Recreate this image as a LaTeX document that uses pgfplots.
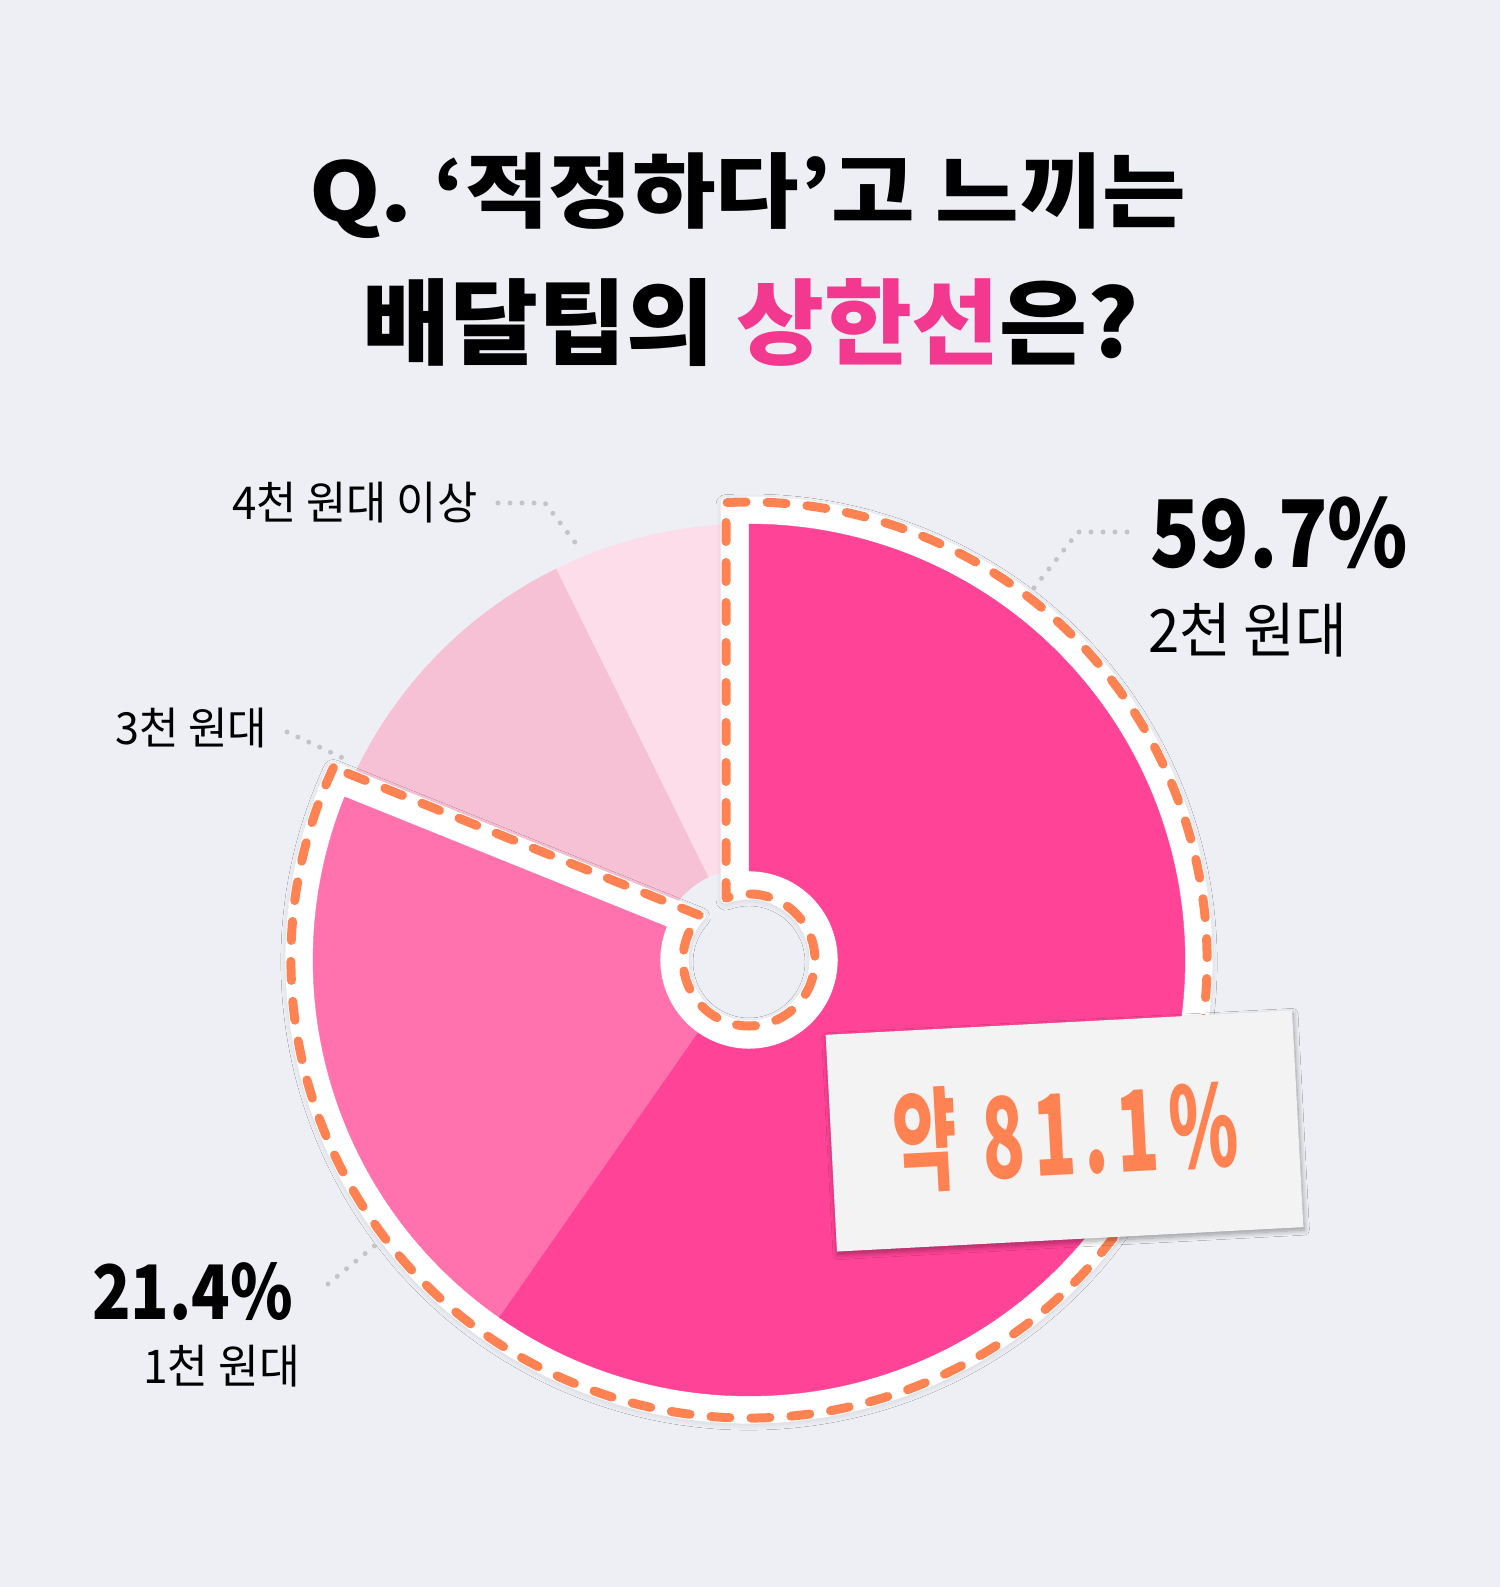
\documentclass[border=0pt]{standalone}
\usepackage{fontspec}
\setmainfont{Noto Sans CJK KR}
\usepackage{graphicx}
\usepackage{pgfplots}
\pgfplotsset{compat=1.18}
\usepackage{pgfplotstable}
\usetikzlibrary{shadows.blur}

\definecolor{bg}{HTML}{EEEFF4}
\definecolor{cA}{HTML}{FF4396}
\definecolor{cB}{HTML}{FF72AE}
\definecolor{cC}{HTML}{F6C1D4}
\definecolor{cD}{HTML}{FDDDE9}
\definecolor{tpink}{HTML}{F2388F}
\definecolor{dashc}{HTML}{FF8352}
\definecolor{dotc}{HTML}{C4C4C6}
\definecolor{paper}{HTML}{F3F3F3}

% shares of the four answers, clockwise from the top:
% 2천 원대, 1천 원대, 3천 원대, 4천 원대 이상
\pgfplotstableread{
share
59.7
21.4
11.6
7.3
}\piedata

\begin{document}
\begin{tikzpicture}
\pgfplotstablegetelem{0}{share}\of\piedata \let\sA\pgfplotsretval
\pgfplotstablegetelem{1}{share}\of\piedata \let\sB\pgfplotsretval
\pgfplotstablegetelem{2}{share}\of\piedata \let\sC\pgfplotsretval
\pgfplotstablegetelem{3}{share}\of\piedata \let\sD\pgfplotsretval
\pgfmathsetmacro{\aZ}{90}
\pgfmathsetmacro{\aA}{\aZ-3.6*\sA}
\pgfmathsetmacro{\aB}{\aA-3.6*\sB}
\pgfmathsetmacro{\aC}{\aB-3.6*\sC}
\pgfmathsetmacro{\aD}{\aC-3.6*\sD}
% outline of the highlighted 81.1% part, offset 23 units outward
\pgfmathsetmacro{\thB}{\aB+360}
\pgfmathsetmacro{\dOut}{asin(23/458)}
\pgfmathsetmacro{\dIn}{asin(23/66)}
\pgfmathsetmacro{\oS}{\thB-\dOut}
\pgfmathsetmacro{\oE}{450+\dOut}
\pgfmathsetmacro{\iS}{450+\dIn}
\pgfmathsetmacro{\iE}{\thB-\dIn}
\pgfmathsetmacro{\oSx}{749+458*cos(\oS)}
\pgfmathsetmacro{\oSy}{627+458*sin(\oS)}
\pgfmathsetmacro{\iSx}{749+66*cos(\iS)}
\pgfmathsetmacro{\iSy}{627+66*sin(\iS)}
\begin{axis}[width=1500pt, height=1587pt, scale only axis,
  xmin=0, xmax=1500, ymin=0, ymax=1587, hide axis, clip=false]
\fill[bg] (0,0) rectangle (1500,1587);

% 4천 원대 이상 and 3천 원대
\addplot[fill=cD, draw=cD, line width=0.4pt, domain=\aD:\aC, samples=40, variable=\t]
  ({749+436*cos(\t)},{627+436*sin(\t)}) -- (axis cs:749,627) -- cycle;
\addplot[fill=cC, draw=cC, line width=0.4pt, domain=\aC:\aB, samples=50, variable=\t]
  ({749+436*cos(\t)},{627+436*sin(\t)}) -- (axis cs:749,627) -- cycle;
\fill[bg] (749,627) circle[radius=92pt];

% white band around the highlighted part
\path[fill=white, draw=white, line width=11pt, line join=round,
  blur shadow={shadow xshift=0pt, shadow yshift=-2pt, shadow blur radius=10pt,
  shadow blur steps=14, shadow opacity=20}]
  (\oSx,\oSy) arc[start angle=\oS, end angle=\oE, radius=458pt]
  -- (\iSx,\iSy) arc[start angle=\iS, end angle=\iE, radius=66pt] -- cycle;

% 2천 원대 and 1천 원대
\addplot[fill=cB, draw=cB, line width=0.4pt, domain=\aB:\aA, samples=60, variable=\t]
  ({749+436*cos(\t)},{627+436*sin(\t)})
  -- (axis cs:{749+89*cos(\aA)},{627+89*sin(\aA)})
  arc[start angle=\aA, end angle=\aB, radius=89pt] -- cycle;
\addplot[fill=cA, draw=cA, line width=0.4pt, domain=\aA:\aZ, samples=150, variable=\t]
  ({749+436*cos(\t)},{627+436*sin(\t)})
  -- (axis cs:{749+89*cos(\aZ)},{627+89*sin(\aZ)})
  arc[start angle=\aZ, end angle=\aA, radius=89pt] -- cycle;

% dashed outline
\draw[dashc, line width=9pt, line cap=round, line join=round, dash pattern=on 19pt off 21pt]
  (\oSx,\oSy) arc[start angle=\oS, end angle=\oE, radius=458pt]
  -- (\iSx,\iSy) arc[start angle=\iS, end angle=\iE, radius=66pt] -- cycle;

% leader dots
\draw[dotc, line width=5pt, line cap=round, dash pattern=on 0pt off 12pt]
  (1127,1055) -- (1078,1055) -- (1034,999);
\draw[dotc, line width=5pt, line cap=round, dash pattern=on 0pt off 12pt]
  (498,1084) -- (545,1084) -- (577,1042);
\draw[dotc, line width=5pt, line cap=round, dash pattern=on 0pt off 12pt]
  (287,855) -- (345,828);
\draw[dotc, line width=5pt, line cap=round, dash pattern=on 0pt off 12pt]
  (328,303) -- (378,344);

% title
\node[anchor=north west, inner sep=0pt] at (309,1435)
  {\resizebox*{877pt}{86pt}{\bfseries Q. ‘적정하다’고 느끼는}};
\node[anchor=north west, inner sep=0pt] at (362,1309)
  {\resizebox*{777pt}{88pt}{\bfseries 배달팁의 \textcolor{tpink}{상한선}은?}};

% labels
\node[anchor=north west, inner sep=0pt] at (1150,1090)
  {\resizebox*{258pt}{72pt}{\bfseries 59.7\%}};
\node[anchor=north west, inner sep=0pt] at (1148,984)
  {\resizebox*{199pt}{54pt}{2천 원대}};
\node[anchor=north west, inner sep=0pt] at (92,325)
  {\resizebox*{201pt}{58pt}{\bfseries 21.4\%}};
\node[anchor=north west, inner sep=0pt] at (143,242)
  {\resizebox*{157pt}{42pt}{1천 원대}};
\node[anchor=north west, inner sep=0pt] at (115,879)
  {\resizebox*{152pt}{40pt}{3천 원대}};
\node[anchor=north west, inner sep=0pt] at (232,1105)
  {\resizebox*{245pt}{41pt}{4천 원대 이상}};

% sticker
\node[rotate=3, fill=paper, minimum width=467pt, minimum height=217pt, inner sep=0pt,
  blur shadow={shadow xshift=1pt, shadow yshift=-3pt, shadow blur radius=5pt,
  shadow blur steps=8, shadow opacity=35}] at (1064.5,456) {};
\node[rotate=3, text=dashc, inner sep=0pt] at (1066,454)
  {\resizebox*{345pt}{105pt}{\bfseries 약\hspace{0.35em}8\hspace{0.12em}1\hspace{0.12em}.\hspace{0.12em}1\hspace{0.15em}\%}};
\end{axis}
\end{tikzpicture}
\end{document}
